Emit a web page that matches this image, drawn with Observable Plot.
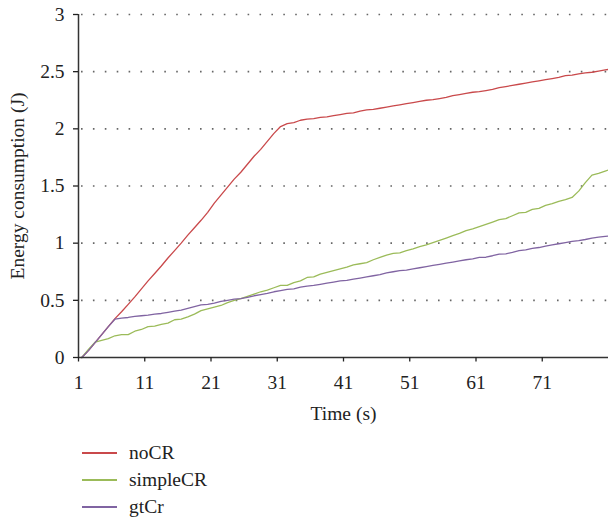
<!DOCTYPE html>
<html>
<head>
<meta charset="utf-8">
<script src="https://cdn.jsdelivr.net/npm/d3@7"></script>
<script src="https://cdn.jsdelivr.net/npm/@observablehq/plot@0.6"></script>
<style>
  html, body { margin: 0; padding: 0; background: #fff; }
  #chart svg { display: block; }
  .legend { font-family: "Liberation Serif", serif; font-size: 19.5px; color: #222; }
  .legend .row { height: 26.7px; display: flex; align-items: center; }
  .legend .sw { width: 35px; height: 0; border-top: 2px solid; margin-left: 82px; margin-right: 12px; }
</style>
</head>
<body>
<div id="chart"></div>
<div class="legend" id="legend"></div>
<script>
const seriesNames = ["noCR", "simpleCR", "gtCr"];
const seriesColors = ["#C9494B", "#9BBB59", "#8064A2"];
const xTicks = [1, 11, 21, 31, 41, 51, 61, 71];
const yTicks = [0, 0.5, 1, 1.5, 2, 2.5, 3];
const gridValues = [0.5, 1, 1.5, 2, 2.5, 3];
const xLabel = "Time (s)";
const yLabel = "Energy consumption (J)";

const time = [
  1.5, 2.5, 3.5, 4.5, 5.5, 6.5, 7.5, 8.5, 9.5, 10.5,
  11.5, 12.5, 13.5, 14.5, 15.5, 16.5, 17.5, 18.5, 19.5, 20.5,
  21.5, 22.5, 23.5, 24.5, 25.5, 26.5, 27.5, 28.5, 29.5, 30.5,
  31.5, 32.5, 33.5, 34.5, 35.5, 36.5, 37.5, 38.5, 39.5, 40.5,
  41.5, 42.5, 43.5, 44.5, 45.5, 46.5, 47.5, 48.5, 49.5, 50.5,
  51.5, 52.5, 53.5, 54.5, 55.5, 56.5, 57.5, 58.5, 59.5, 60.5,
  61.5, 62.5, 63.5, 64.5, 65.5, 66.5, 67.5, 68.5, 69.5, 70.5,
  71.5, 72.5, 73.5, 74.5, 75.5, 76.5, 77.5, 78.5, 79.5, 80.5,
  81
];

const noCR = [
  0, 0.06, 0.13, 0.20, 0.27, 0.34, 0.40, 0.465, 0.53, 0.60,
  0.67, 0.735, 0.80, 0.87, 0.935, 1.00, 1.07, 1.135, 1.20, 1.27,
  1.35, 1.42, 1.49, 1.56, 1.62, 1.69, 1.76, 1.82, 1.89, 1.96,
  2.02, 2.045, 2.055, 2.075, 2.085, 2.09, 2.10, 2.105, 2.115, 2.125,
  2.135, 2.14, 2.155, 2.165, 2.17, 2.18, 2.19, 2.20, 2.21, 2.22,
  2.23, 2.24, 2.25, 2.255, 2.265, 2.275, 2.29, 2.30, 2.31, 2.32,
  2.325, 2.335, 2.345, 2.36, 2.37, 2.38, 2.39, 2.40, 2.41, 2.42,
  2.43, 2.44, 2.45, 2.465, 2.47, 2.48, 2.49, 2.495, 2.505, 2.515,
  2.52
];

const simpleCR = [
  0, 0.07, 0.135, 0.15, 0.165, 0.19, 0.20, 0.20, 0.23, 0.245,
  0.27, 0.275, 0.29, 0.30, 0.33, 0.335, 0.355, 0.38, 0.41, 0.425,
  0.44, 0.455, 0.48, 0.50, 0.515, 0.535, 0.555, 0.575, 0.59, 0.61,
  0.63, 0.63, 0.655, 0.67, 0.70, 0.705, 0.73, 0.745, 0.76, 0.775,
  0.79, 0.81, 0.82, 0.83, 0.855, 0.875, 0.895, 0.91, 0.915, 0.935,
  0.95, 0.97, 0.985, 1.005, 1.025, 1.045, 1.065, 1.085, 1.11, 1.125,
  1.145, 1.165, 1.185, 1.205, 1.215, 1.24, 1.265, 1.27, 1.295, 1.305,
  1.33, 1.345, 1.365, 1.38, 1.40, 1.455, 1.53, 1.595, 1.61, 1.63,
  1.64
];

const gtCr = [
  0, 0.06, 0.13, 0.20, 0.27, 0.335, 0.345, 0.35, 0.36, 0.365,
  0.37, 0.38, 0.385, 0.395, 0.405, 0.415, 0.43, 0.445, 0.46, 0.465,
  0.475, 0.49, 0.50, 0.51, 0.515, 0.525, 0.54, 0.55, 0.56, 0.575,
  0.585, 0.595, 0.60, 0.615, 0.625, 0.63, 0.64, 0.65, 0.66, 0.67,
  0.675, 0.685, 0.695, 0.705, 0.715, 0.725, 0.74, 0.75, 0.76, 0.765,
  0.775, 0.785, 0.795, 0.805, 0.815, 0.825, 0.835, 0.845, 0.855, 0.862,
  0.875, 0.877, 0.89, 0.905, 0.907, 0.92, 0.935, 0.942, 0.955, 0.962,
  0.975, 0.985, 0.995, 1.005, 1.015, 1.022, 1.032, 1.045, 1.052, 1.06,
  1.062
];

const seriesValues = [noCR, simpleCR, gtCr];
const data = seriesNames.flatMap((name, s) =>
  time.map((t, i) => ({series: name, time: t, value: seriesValues[s][i]}))
);

const chart = Plot.plot({
  width: 608,
  height: 440,
  marginLeft: 78,
  marginRight: 0,
  marginTop: 14,
  marginBottom: 83,
  style: {fontFamily: "'Liberation Serif', serif", fontSize: "19.5px", color: "#222", background: "#fff"},
  x: {domain: [1, 81]},
  y: {domain: [0, 3]},
  color: {domain: seriesNames, range: seriesColors},
  marks: [
    Plot.ruleY(gridValues, {stroke: "#666", strokeWidth: 1.6, strokeDasharray: "1.6,10.3", strokeDashoffset: 8.9}),
    Plot.line(data, {x: "time", y: "value", z: "series", stroke: "series", strokeWidth: 1.3}),
    Plot.ruleX([1], {stroke: "#333", strokeWidth: 1.5}),
    Plot.ruleY([0], {stroke: "#333", strokeWidth: 1.5}),
    Plot.axisY(yTicks, {tickSize: 5, tickPadding: 9, tickFormat: d => String(d), label: null, strokeWidth: 1.3}),
    Plot.axisX(xTicks, {tickSize: 4.5, tickPadding: 13, tickFormat: d => String(d), label: null, strokeWidth: 1.3}),
    Plot.text([yLabel], {frameAnchor: "left", dx: -60.5, rotate: -90, text: d => d, textAnchor: "middle", lineAnchor: "middle"}),
    Plot.text([xLabel], {frameAnchor: "bottom", dy: 56, text: d => d, textAnchor: "middle", lineAnchor: "middle"})
  ]
});
document.getElementById("chart").appendChild(chart);

const legend = document.getElementById("legend");
seriesNames.forEach((name, i) => {
  const row = document.createElement("div");
  row.className = "row";
  const sw = document.createElement("span");
  sw.className = "sw";
  sw.style.borderTopColor = seriesColors[i];
  const label = document.createElement("span");
  label.textContent = name;
  row.appendChild(sw);
  row.appendChild(label);
  legend.appendChild(row);
});
</script>
</body>
</html>
